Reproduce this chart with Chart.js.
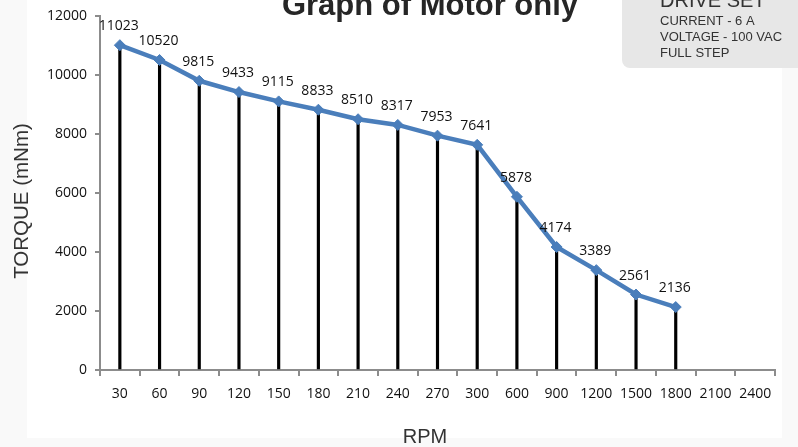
<!DOCTYPE html>
<html>
<head>
<meta charset="utf-8">
<script src="https://cdn.jsdelivr.net/npm/chart.js@4.4.1/dist/chart.umd.min.js"></script>
<style>
  html, body { margin: 0; padding: 0; background: #ffffff; }
  #wrap { width: 798px; height: 447px; }
</style>
</head>
<body>
<div id="wrap"><canvas id="torqueChart" width="798" height="447"></canvas></div>
<script>
const rpmLabels = ['30', '60', '90', '120', '150', '180', '210', '240', '270', '300', '600', '900', '1200', '1500', '1800', '2100', '2400'];
const torqueValues = [11023, 10520, 9815, 9433, 9115, 8833, 8510, 8317, 7953, 7641, 5878, 4174, 3389, 2561, 2136, null, null];
const yTicks = [0, 2000, 4000, 6000, 8000, 10000, 12000];
const chartTitle = 'Graph of Motor only';
const xTitle = 'RPM';
const yTitle = 'TORQUE (mNm)';
const driveSet = ['CURRENT - 6 A', 'VOLTAGE - 100 VAC', 'FULL STEP'];

const axisGray = '#8c8c8c';
const lineBlue = '#4a7ebb';

// background, titles and the drive set box
const decorPlugin = {
    id: 'decor',
    beforeDraw(chart) {
        const ctx = chart.ctx;
        ctx.save();
        ctx.fillStyle = '#f9f9f9';
        ctx.fillRect(0, 0, chart.width, chart.height);
        ctx.fillStyle = '#ffffff';
        ctx.fillRect(27, 0, 755, 438);
        ctx.restore();
    },
    afterDraw(chart) {
        const ctx = chart.ctx;
        ctx.save();
        ctx.fillStyle = '#262626';
        ctx.font = 'bold 31px "Liberation Sans", Arial, sans-serif';
        ctx.textAlign = 'center';
        ctx.textBaseline = 'alphabetic';
        ctx.fillText(chartTitle, 430, 15);

        ctx.fillStyle = '#333333';
        ctx.font = '20px "Liberation Sans", Arial, sans-serif';
        ctx.textBaseline = 'middle';
        ctx.fillText(xTitle, 425, 437);

        ctx.save();
        ctx.translate(22, 201);
        ctx.rotate(-Math.PI / 2);
        ctx.font = '20.5px "Liberation Sans", Arial, sans-serif';
        ctx.fillText(yTitle, 0, 0);
        ctx.restore();

        ctx.fillStyle = '#e7e7e7';
        ctx.beginPath();
        ctx.roundRect(622, -12, 190, 80, 8);
        ctx.fill();

        ctx.fillStyle = '#333333';
        ctx.textAlign = 'left';
        ctx.textBaseline = 'alphabetic';
        ctx.font = '20px "Liberation Sans", Arial, sans-serif';
        ctx.fillText('DRIVE SET', 660, 7);
        ctx.font = '13px "Liberation Sans", Arial, sans-serif';
        ctx.textBaseline = 'middle';
        driveSet.forEach((t, i) => ctx.fillText(t, 660, 21 + i * 16));
        ctx.restore();
    }
};

// value labels above each point of the line
const valueLabels = {
    id: 'valueLabels',
    afterDatasetsDraw(chart) {
        const ctx = chart.ctx;
        const meta = chart.getDatasetMeta(1);
        ctx.save();
        ctx.fillStyle = '#111111';
        ctx.font = '14px "Open Sans", sans-serif';
        ctx.textAlign = 'center';
        ctx.textBaseline = 'middle';
        meta.data.forEach((pt, i) => {
            const v = torqueValues[i];
            if (v == null) return;
            ctx.fillText(String(v), pt.x - 1, pt.y - 19);
        });
        ctx.restore();
    }
};

new Chart(document.getElementById('torqueChart'), {
    type: 'bar',
    data: {
        labels: rpmLabels,
        datasets: [
            {
                type: 'bar',
                data: torqueValues,
                backgroundColor: '#000000',
                barThickness: 2.5,
                order: 2
            },
            {
                type: 'line',
                data: torqueValues,
                borderColor: lineBlue,
                backgroundColor: lineBlue,
                borderWidth: 4.5,
                pointStyle: 'rectRot',
                pointRadius: 5.5,
                pointBorderWidth: 1,
                tension: 0,
                spanGaps: false,
                order: 1
            }
        ]
    },
    options: {
        responsive: false,
        animation: false,
        layout: { padding: { top: 16, right: 23, bottom: 0, left: 0 } },
        plugins: {
            legend: { display: false },
            tooltip: { enabled: false }
        },
        scales: {
            x: {
                offset: true,
                grid: { offset: true, drawOnChartArea: false, tickLength: 6, color: axisGray, lineWidth: 2 },
                border: { color: axisGray, width: 2 },
                ticks: { color: '#111111', font: { family: 'Open Sans', size: 14 }, padding: 10, maxRotation: 0, autoSkip: false },
                afterFit(scale) { scale.height = 77; }
            },
            y: {
                min: 0,
                max: 12000,
                afterBuildTicks(scale) { scale.ticks = yTicks.map(v => ({ value: v })); },
                grid: { drawOnChartArea: false, tickLength: 5, color: axisGray, lineWidth: 2 },
                border: { color: axisGray, width: 2 },
                ticks: {
                    color: '#111111', font: { family: 'Open Sans', size: 14 }, padding: 8,
                    callback: v => String(v)
                },
                afterFit(scale) { scale.width = 100; }
            }
        }
    },
    plugins: [decorPlugin, valueLabels]
});
</script>
</body>
</html>
